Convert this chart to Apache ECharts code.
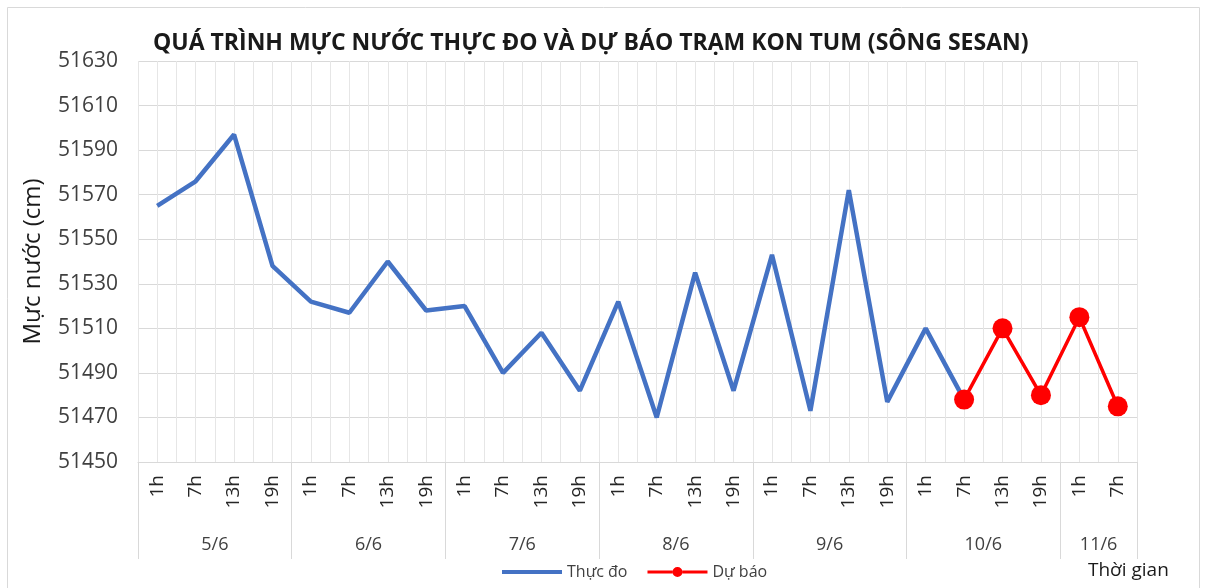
<!DOCTYPE html>
<html><head><meta charset="utf-8">
<script src="https://cdn.jsdelivr.net/npm/echarts@6/dist/echarts.min.js"></script>
<style>html,body{margin:0;padding:0;background:#fff}#c{width:1206px;height:588px}</style>
</head><body><div id="c"></div>
<script>
const hours = ['1h','7h','13h','19h','1h','7h','13h','19h','1h','7h','13h','19h','1h','7h','13h','19h','1h','7h','13h','19h','1h','7h','13h','19h','1h','7h'];
const dates = ['5/6','6/6','7/6','8/6','9/6','10/6','11/6'];
const dateBounds = [0,4,8,12,16,20,24,26];
const dateCenters = [2,6,10,14,18,22,25];
const measured = [51565,51576,51597,51538,51522,51517,51540,51518,51520,51490,51508,51482,51522,51470,51535,51482,51543,51473,51572,51477,51510,51478];
const forecast = [51478,51510,51480,51515,51475];
const forecastStart = 21;

const measuredData = hours.map((h,i)=> i < measured.length ? measured[i] : '-');
const forecastData = hours.map((h,i)=> (i>=forecastStart && i-forecastStart<forecast.length) ? forecast[i-forecastStart] : '-');
const FONT = 'Open Sans';
const chart = echarts.init(document.getElementById('c'));
chart.setOption({
  animation:false,
  backgroundColor:'#fff',
  title:{text:'QUÁ TRÌNH MỰC NƯỚC THỰC ĐO VÀ DỰ BÁO TRẠM KON TUM (SÔNG SESAN)',left:148,top:27,
    textStyle:{fontFamily:FONT,fontWeight:'bold',fontSize:23,color:'#1a1a1a'}},
  grid:{left:138,right:69,top:61,bottom:126},
  legend:{bottom:3,left:497,itemWidth:60,itemHeight:14,itemGap:20,
    textStyle:{fontFamily:FONT,fontSize:16,color:'#404040'},
    data:[{name:'Thực đo',icon:'path://M0,5.5L60,5.5L60,9.5L0,9.5Z'},
          {name:'Dự báo',icon:'path://M0,6L25,6L25,9L0,9Z M35,6L60,6L60,9L35,9Z M25,7.5 A5,5 0 1,0 35,7.5 A5,5 0 1,0 25,7.5Z'}]},
  xAxis:[
    {type:'category',data:hours,boundaryGap:true,position:'bottom',
     axisLine:{lineStyle:{color:'#d9d9d9',width:1}},axisTick:{show:false},
     axisLabel:{rotate:90,fontFamily:FONT,fontSize:19,color:'#262626',margin:13,interval:0},splitLine:{show:false}},
    {type:'value',min:0,max:26,position:'bottom',
     axisLine:{show:false},
     axisTick:{show:true,customValues:dateBounds,length:97,lineStyle:{color:'#d9d9d9'}},
     axisLabel:{customValues:dateCenters,margin:74,fontFamily:FONT,fontSize:18,color:'#404040',
       formatter:(v)=>{const k=dateCenters.indexOf(v);return k>=0?dates[k]:'';}},
     splitLine:{show:false}},
    {type:'value',min:0,max:26,interval:0.5,position:'top',
     axisLine:{show:false},axisTick:{show:false},axisLabel:{show:false},
     splitLine:{show:true,lineStyle:{color:'#e6e6e6',width:1}}}
  ],
  yAxis:{type:'value',min:51450,max:51630,interval:20,
    name:'Mực nước (cm)',nameLocation:'middle',nameRotate:90,nameGap:93,
    nameTextStyle:{fontFamily:FONT,fontSize:24,color:'#1a1a1a'},
    axisLine:{show:false},axisTick:{show:false},
    axisLabel:{fontFamily:FONT,fontSize:21,color:'#404040',margin:20,formatter:(v)=>String(v)},
    splitLine:{lineStyle:{color:'#d9d9d9',width:1}}},
  series:[
    {name:'Thực đo',type:'line',xAxisIndex:0,data:measuredData,symbol:'none',
     lineStyle:{color:'#4472C4',width:4.5},itemStyle:{color:'#4472C4'}},
    {name:'Dự báo',type:'line',xAxisIndex:0,data:forecastData,symbol:'circle',symbolSize:20,
     showAllSymbol:true,
     lineStyle:{color:'#FF0000',width:3.5},itemStyle:{color:'#FF0000'}}
  ],
  graphic:[
    {type:'rect',shape:{x:7.5,y:7.5,width:1192,height:600},style:{fill:'none',stroke:'#d9d9d9',lineWidth:1},silent:true},
    {type:'text',left:1088,top:561,style:{text:'Thời gian',fontFamily:FONT,fontSize:19,fill:'#1a1a1a'}}
  ]
});
</script></body></html>
